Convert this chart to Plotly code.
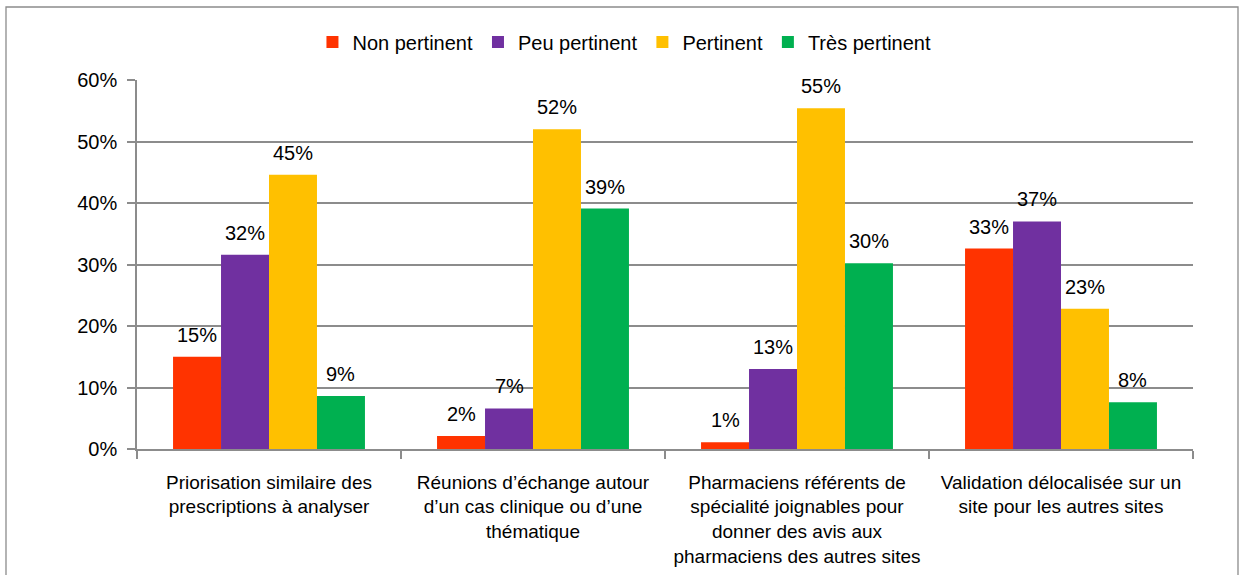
import plotly.graph_objects as go

categories = [
    "Priorisation similaire des<br>prescriptions à analyser",
    "Réunions d’échange autour<br>d’un cas clinique ou d’une<br>thématique",
    "Pharmaciens référents de<br>spécialité joignables pour<br>donner des avis aux<br>pharmaciens des autres sites",
    "Validation délocalisée sur un<br>site pour les autres sites",
]
series_names = ["Non pertinent", "Peu pertinent", "Pertinent", "Très pertinent"]
non_pertinent = [0.150, 0.021, 0.011, 0.326]
peu_pertinent = [0.316, 0.066, 0.130, 0.370]
pertinent = [0.446, 0.520, 0.554, 0.228]
tres_pertinent = [0.086, 0.391, 0.302, 0.076]
colors = ["#FF3300", "#7030A0", "#FFC000", "#00B050"]

W, H = 1239, 575
ML, MR, MT, MB = 137, 46, 80, 126
BARGAP = 0.273
FONT = "Liberation Sans"
GRID = "#8c8c8c"

fig = go.Figure()
all_values = [non_pertinent, peu_pertinent, pertinent, tres_pertinent]

for name, vals, col in zip(series_names, all_values, colors):
    fig.add_trace(go.Bar(x=categories, y=vals, name=name, marker=dict(color=col, line=dict(width=0)),
                         hoverinfo="skip"))

pw = W - ML - MR
ph = H - MT - MB

# value labels above each bar (offset by the bar slot width inside the group)
n = len(series_names)
bar_px = pw / len(categories) * (1 - BARGAP) / n
for i, vals in enumerate(all_values):
    for cat, v in zip(categories, vals):
        fig.add_annotation(x=cat, y=v, text=f"{round(v * 100)}%", showarrow=False,
                           xshift=(i - (n - 1) / 2) * bar_px, yshift=22, yanchor="middle",
                           font=dict(size=20, color="#000000"))

# outer chart border
fig.add_shape(type="rect", xref="paper", yref="paper",
              x0=(6 - ML) / pw, x1=(1238 - ML) / pw, y0=-1.0, y1=(H - MB - 7) / ph,
              line=dict(color=GRID, width=1.3), fillcolor="rgba(0,0,0,0)", layer="below")

fig.update_layout(
    width=W, height=H,
    margin=dict(l=ML, r=MR, t=MT, b=MB, autoexpand=False),
    plot_bgcolor="white", paper_bgcolor="white",
    font=dict(family=FONT, size=20, color="#000000"),
    barmode="group", bargap=BARGAP, bargroupgap=0,
    legend=dict(orientation="h", xref="container", yref="container", x=0.504, y=0.927,
                xanchor="center", yanchor="middle", font=dict(size=20), bgcolor="rgba(0,0,0,0)"),
    showlegend=True,
)
fig.update_yaxes(range=[0, 0.6], dtick=0.1, tickformat=".0%", showgrid=True, gridcolor=GRID, gridwidth=1.5,
                 showline=True, linecolor=GRID, linewidth=1.5, ticks="outside", ticklen=8, tickcolor=GRID,
                 tickwidth=1.5, zeroline=False, ticklabelstandoff=6, automargin=False)
fig.update_xaxes(showline=True, linecolor=GRID, linewidth=1.5, ticks="outside", ticklen=8, tickcolor=GRID,
                 tickwidth=1.5, tickson="boundaries", showgrid=False, ticklabelstandoff=15,
                 tickangle=0, automargin=False, tickfont=dict(size=19))

fig.write_html("out.html", config={"displayModeBar": False},
               post_script="document.body.style.margin='0';")
